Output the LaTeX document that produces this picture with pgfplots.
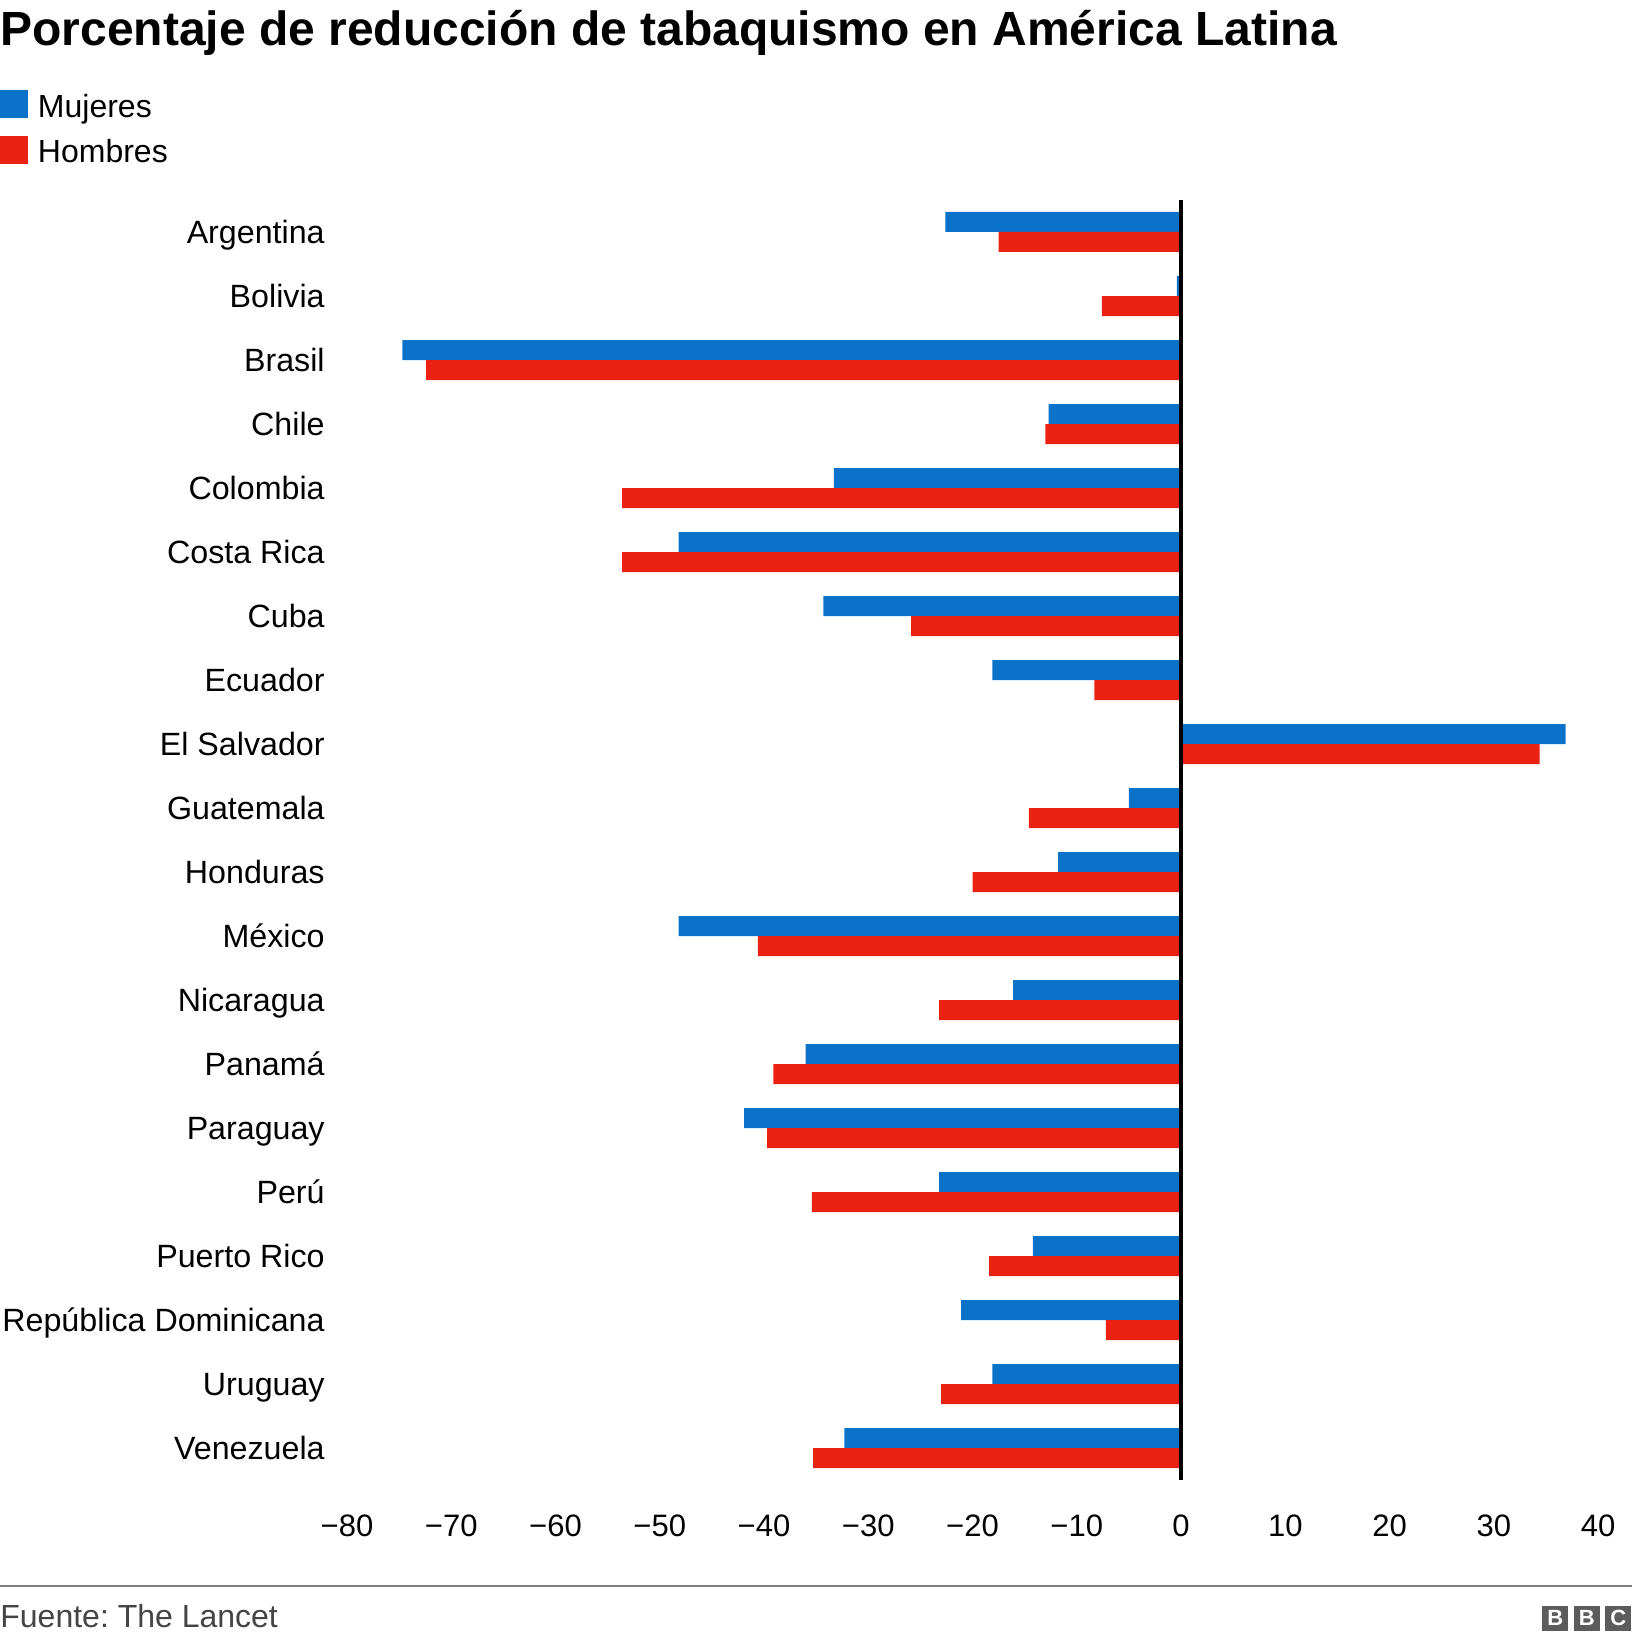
\documentclass[border=0pt]{standalone}
\usepackage{pgfplots}
\pgfplotsset{compat=1.18}
\usepackage{pgfplotstable}
\usepackage{fontspec}
\setmainfont{Liberation Sans}
\frenchspacing
\definecolor{cblue}{HTML}{0A73C9}
\definecolor{cred}{HTML}{EB2112}
\definecolor{logo}{HTML}{5C5C5C}
\definecolor{foot}{HTML}{444444}
\definecolor{rule}{HTML}{7F7F7F}
% y index: 19 = Argentina (top) ... 0 = Venezuela (bottom)
\pgfplotstableread{
y m h
19 -22.6 -17.5
18 -0.4 -7.6
17 -74.7 -72.4
16 -12.7 -13.0
15 -33.3 -53.6
14 -48.2 -53.6
13 -34.3 -25.9
12 -18.1 -8.3
11 36.9 34.4
10 -5.0 -14.6
9 -11.8 -20.0
8 -48.2 -40.6
7 -16.1 -23.2
6 -36.0 -39.1
5 -41.9 -39.7
4 -23.2 -35.4
3 -14.2 -18.4
2 -21.1 -7.2
1 -18.1 -23.0
0 -32.3 -35.3
}\datatable
\begin{document}
\begin{tikzpicture}
\useasboundingbox (0,0) rectangle (816pt,-821pt);
\node[anchor=base west, inner sep=0pt, font=\fontsize{24pt}{28pt}\selectfont\bfseries] at (0,-22.8pt) {Porcentaje de reducción de tabaquismo en América Latina};
\begin{axis}[
  at={(173.5pt,-100pt)}, anchor=north west,
  scale only axis, width=625.5pt, height=640pt,
  xmin=-80, xmax=40, ymin=-0.5, ymax=19.5,
  axis lines=left, axis line style={draw=none},
  major tick length=0pt,
  xtick={-80,-70,-60,-50,-40,-30,-20,-10,0,10,20,30,40},
  xticklabels={−80,−70,−60,−50,−40,−30,−20,−10,0,10,20,30,40},
  ytick={0,...,19},
  yticklabels={Venezuela,Uruguay,República Dominicana,Puerto Rico,Perú,Paraguay,Panamá,Nicaragua,México,Honduras,Guatemala,El Salvador,Ecuador,Cuba,Costa Rica,Colombia,Chile,Brasil,Bolivia,Argentina},
  tick label style={inner sep=0pt},
  yticklabel style={font=\fontsize{16.1pt}{19pt}\selectfont, anchor=base east, xshift=-11pt, yshift=-5.7pt},
  xticklabel style={font=\fontsize{15.5pt}{18pt}\selectfont, anchor=base, yshift=-28pt},
  xbar, bar width=10pt,
  legend style={at={(-0.2774,1.0856)}, anchor=north west, draw=none, fill=none,
    inner sep=0pt, outer sep=0pt, column sep=5pt, row sep=7.6pt,
    nodes={inner sep=0pt}, cells={anchor=base west},
    font=\fontsize{16pt}{19pt}\selectfont},
  clip=false,
]
\addplot[draw=none, fill=cblue, bar shift=5pt,
  legend image code/.code={\fill[cblue] (0pt,-0.5pt) rectangle (14pt,13.5pt);}]
  table[x=m, y=y] {\datatable};
\addlegendentry{Mujeres}
\addplot[draw=none, fill=cred, bar shift=-5pt,
  legend image code/.code={\fill[cred] (0pt,-0.5pt) rectangle (14pt,13.5pt);}]
  table[x=h, y=y] {\datatable};
\addlegendentry{Hombres}
\draw[black, line width=1.6pt] (axis cs:0,-0.5) -- (axis cs:0,19.5);
\end{axis}
\draw[rule, line width=1pt] (0,-793.2pt) -- (816pt,-793.2pt);
\node[anchor=base west, inner sep=0pt, text=foot, font=\fontsize{16pt}{19pt}\selectfont] at (0,-813.5pt) {Fuente: The Lancet};
\foreach \xx/\ll in {771.2/B,786.9/B,802.7/C}{
  \fill[logo] (\xx pt,-802.8pt) rectangle ++(13pt,-12.7pt);
  \node[text=white, inner sep=0pt, font=\fontsize{11pt}{12pt}\selectfont\bfseries] at (\xx pt+6.5pt,-809.15pt) {\ll};
}
\end{tikzpicture}
\end{document}
